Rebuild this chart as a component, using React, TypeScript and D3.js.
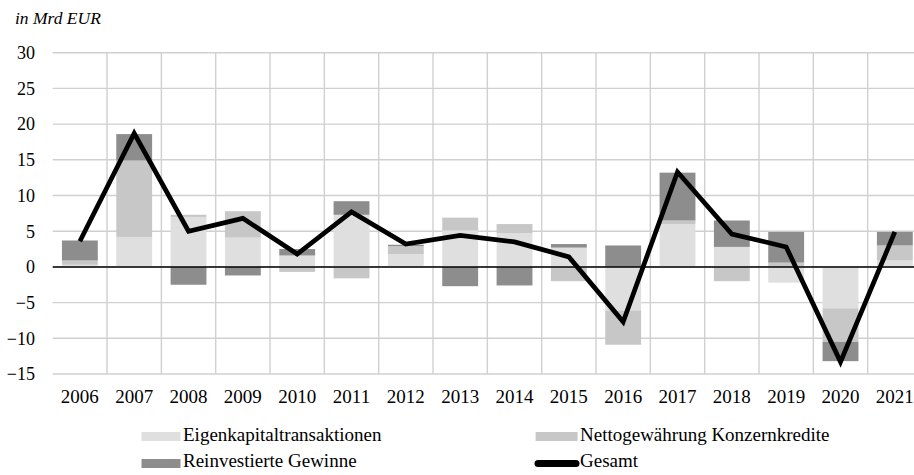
import React from 'react';
import * as d3 from 'd3';

const years = ['2006', '2007', '2008', '2009', '2010', '2011', '2012', '2013', '2014', '2015', '2016', '2017', '2018', '2019', '2020', '2021'];
const eigenkapital = [0.3, 4.2, 7.0, 4.1, 1.6, 7.3, 1.8, 5.1, 4.7, 2.7, -6.1, 6.0, 2.8, -2.2, -5.8, 0.9];
const konzernkredite = [0.6, 10.7, 0.3, 3.7, -0.7, -1.6, 1.1, 1.8, 1.3, -2.0, -4.8, 0.5, -2.0, 0.6, -4.7, 2.1];
const reinvestiert = [2.8, 3.7, -2.5, -1.2, 0.9, 1.9, 0.2, -2.7, -2.6, 0.5, 3.0, 6.7, 3.7, 4.3, -2.7, 1.9];
const gesamt = [3.6, 18.7, 5.0, 6.8, 1.8, 7.7, 3.2, 4.4, 3.5, 1.4, -7.7, 13.3, 4.6, 2.8, -13.3, 4.9];
const yTicks = [-15, -10, -5, 0, 5, 10, 15, 20, 25, 30];
const seriesNames = ['Eigenkapitaltransaktionen', 'Nettogewährung Konzernkredite', 'Reinvestierte Gewinne', 'Gesamt'];
const unitLabel = 'in Mrd EUR';

const colors = ['#dfdfdf', '#c7c7c7', '#8d8d8d'];
const FONT = "'Liberation Serif', 'Times New Roman', serif";

export default function App() {
  const W = 914, H = 475;
  const left = 52.7, right = 922, top = 52.7, bottom = 374;
  const x = d3.scaleBand<string>().domain(years).range([left, right]).paddingInner(0.34).paddingOuter(0.17);
  const y = d3.scaleLinear().domain([-15, 30]).range([bottom, top]);
  const step = x.step();
  const bw = x.bandwidth();

  const rows = years.map((yr, i) => ({ year: yr, ek: eigenkapital[i], nk: konzernkredite[i], rg: reinvestiert[i] }));
  const stacked = d3.stack<any>().keys(['ek', 'nk', 'rg']).offset(d3.stackOffsetDiverging)(rows);

  const lineGen = d3.line<number>()
    .x((_, i) => (x(years[i]) as number) + bw / 2)
    .y(d => y(d));

  const fmt = (v: number) => (v < 0 ? '\u2212' + Math.abs(v) : String(v));

  return (
    <svg width={W} height={H} style={{ position: 'fixed', left: 0, top: 0, background: '#fff' }}>
      <text x={15} y={24} fontFamily={FONT} fontSize={17.5} fontStyle="italic" fill="#000">{unitLabel}</text>
      {yTicks.map(t => (
        <line key={'h' + t} x1={left} x2={right} y1={y(t)} y2={y(t)} stroke="#d0d0d0" strokeWidth={1.4} />
      ))}
      {d3.range(1, years.length + 1).map(i => (
        <line key={'v' + i} x1={left + i * step} x2={left + i * step} y1={top} y2={bottom} stroke="#d0d0d0" strokeWidth={1.4} />
      ))}
      {stacked.map((s, si) => (
        <g key={s.key} fill={colors[si]}>
          {s.map((d, i) => (
            <rect key={i} x={x(years[i])} width={bw} y={y(Math.max(d[0], d[1]))} height={Math.abs(y(d[0]) - y(d[1]))} />
          ))}
        </g>
      ))}
      <line x1={left} x2={right} y1={y(0)} y2={y(0)} stroke="#000" strokeWidth={1.5} />
      <path d={lineGen(gesamt) as string} fill="none" stroke="#000" strokeWidth={4.7} strokeLinejoin="miter" />
      {yTicks.map(t => (
        <text key={'yl' + t} x={35} y={y(t)} dy="0.35em" textAnchor="end" fontFamily={FONT} fontSize={18} fill="#000">{fmt(t)}</text>
      ))}
      {years.map(yr => (
        <text key={'xl' + yr} x={(x(yr) as number) + bw / 2} y={403} textAnchor="middle" fontFamily={FONT} fontSize={19} fill="#000">{yr}</text>
      ))}
      <g fontSize={19} fill="#000" fontFamily={FONT}>
        <rect x={141.5} y={432} width={39} height={9} fill={colors[0]} />
        <text x={183} y={440.5} fontFamily={FONT}>{seriesNames[0]}</text>
        <rect x={535.6} y={432} width={42} height={9} fill={colors[1]} />
        <text x={580} y={440.5} fontFamily={FONT}>{seriesNames[1]}</text>
        <rect x={141.5} y={459} width={39} height={9} fill={colors[2]} />
        <text x={183} y={467.3} fontFamily={FONT}>{seriesNames[2]}</text>
        <line x1={538} x2={576} y1={463.5} y2={463.5} stroke="#000" strokeWidth={7} strokeLinecap="round" />
        <text x={580} y={467.3} fontFamily={FONT}>{seriesNames[3]}</text>
      </g>
    </svg>
  );
}
